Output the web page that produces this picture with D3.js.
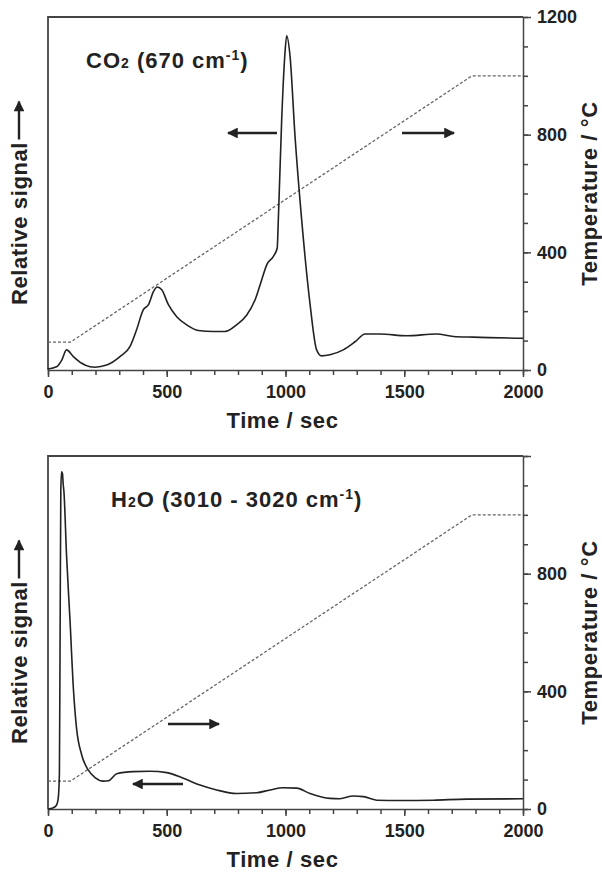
<!DOCTYPE html>
<html>
<head>
<meta charset="utf-8">
<script src="https://cdn.jsdelivr.net/npm/d3@7"></script>
<style>
  body { margin: 0; background: #fff; }
  svg { display: block; font-family: "Liberation Sans", Arial, sans-serif; font-weight: bold; }
  .frame { stroke: #444; stroke-width: 1.8; fill: none; }
  .axis path, .axis line { stroke: #444; stroke-width: 1.5; }
  .axis text { font-size: 18px; font-weight: bold; fill: #222; font-family: "Liberation Sans", Arial, sans-serif; }
  .signal { fill: none; stroke: #222; stroke-width: 1.6; }
  .temp { fill: none; stroke: #666; stroke-width: 1.3; stroke-dasharray: 3 2; }
  .title { font-size: 22px; fill: #222; letter-spacing: 0.6px; }
  .species { font-size: 22px; fill: #222; letter-spacing: 1px; }
</style>
</head>
<body>
<div id="chart"></div>
<script>
// time axis (s)
const timeMajor = [0, 500, 1000, 1500, 2000];
const timeMinor = d3.range(0, 2001, 100);
const tempMajor = [0, 400, 800, 1200];
const tempMinor = d3.range(0, 1201, 100);

// temperature programme (dashed line), same in both panels
const rampTimes = [0, 95, 1785, 2000];
const rampTemps = [95, 95, 1000, 1000];

// CO2 (670 cm-1) relative signal, 0..1 of the panel height
const co2Times = [0, 36, 58, 78, 107, 142, 177, 198, 247, 303, 345, 373, 401, 423, 444, 460, 479, 507, 542, 584,
  633, 696, 745, 794, 837, 872, 900, 921, 949, 965, 970, 984, 998, 1005, 1019, 1040, 1068, 1103, 1131, 1152,
  1187, 1243, 1293, 1335, 1398, 1510, 1636, 1707, 1791, 2000];
const co2Signal = [0.003, 0.009, 0.028, 0.057, 0.038, 0.019, 0.009, 0.008, 0.014, 0.038, 0.066, 0.114, 0.17, 0.185, 0.222, 0.235, 0.227, 0.185, 0.151, 0.128,
  0.112, 0.109, 0.109, 0.128, 0.156, 0.199, 0.256, 0.298, 0.322, 0.345, 0.43, 0.71, 0.9, 0.947, 0.89, 0.663, 0.426, 0.189, 0.057, 0.04,
  0.043, 0.057, 0.08, 0.102, 0.102, 0.097, 0.102, 0.095, 0.093, 0.09];

// H2O (3010 - 3020 cm-1) relative signal
const h2oTimes = [0, 20, 35, 43, 48, 51, 54, 57, 61, 64, 67, 78, 93, 107, 120, 142, 170, 198, 233, 255,
  289, 359, 429, 500, 570, 640, 710, 794, 879, 935, 991, 1047, 1103, 1187, 1229, 1285, 1328, 1384, 1482, 1623, 1763, 2000];
const h2oSignal = [0, 0.003, 0.01, 0.03, 0.1, 0.5, 0.9, 0.955, 0.95, 0.92, 0.9, 0.72, 0.53, 0.34, 0.23, 0.153, 0.11, 0.089, 0.079, 0.08,
  0.1, 0.106, 0.107, 0.103, 0.087, 0.068, 0.054, 0.044, 0.046, 0.054, 0.06, 0.059, 0.044, 0.03, 0.029, 0.037, 0.035, 0.025, 0.024, 0.025, 0.028, 0.029];

const W = 602, H = 874;
const svg = d3.select('#chart').append('svg').attr('width', W).attr('height', H);

// arrowhead marker
svg.append('defs').append('marker')
  .attr('id', 'head')
  .attr('viewBox', '0 0 10 10')
  .attr('refX', 9).attr('refY', 5)
  .attr('markerWidth', 6).attr('markerHeight', 4.5)
  .attr('markerUnits', 'strokeWidth')
  .attr('orient', 'auto')
  .append('path').attr('d', 'M0,0 L10,5 L0,10 Z').attr('fill', '#222');

function drawPanel(opt) {
  const x = d3.scaleLinear().domain([0, 2000]).range([48, 523]);
  const yT = d3.scaleLinear().domain([0, 1200]).range([opt.bottom, opt.top]);
  const yS = d3.scaleLinear().domain([0, 1]).range([opt.bottom, opt.top]);
  const g = svg.append('g');

  // frame: left, top
  g.append('path').attr('class', 'frame')
    .attr('d', `M${x(0)},${opt.bottom} V${opt.top} H${x(2000)}`);

  // x axis
  g.append('g').attr('class', 'axis')
    .attr('transform', `translate(0,${opt.bottom})`)
    .call(d3.axisBottom(x).tickValues(timeMinor).tickSize(5).tickFormat('').tickSizeOuter(0));
  g.append('g').attr('class', 'axis')
    .attr('transform', `translate(0,${opt.bottom})`)
    .call(d3.axisBottom(x).tickValues(timeMajor).tickSize(7).tickPadding(8)
      .tickFormat(d3.format('d')).tickSizeOuter(0))
    .call(a => a.select('.domain').remove());

  // right temperature axis
  g.append('g').attr('class', 'axis')
    .attr('transform', `translate(${x(2000)},0)`)
    .call(d3.axisRight(yT).tickValues(tempMinor).tickSize(5).tickFormat('').tickSizeOuter(0));
  g.append('g').attr('class', 'axis')
    .attr('transform', `translate(${x(2000)},0)`)
    .call(d3.axisRight(yT).tickValues(tempMajor).tickSize(8).tickPadding(6)
      .tickFormat(d => opt.labels.includes(d) ? d : '').tickSizeOuter(0))
    .call(a => a.select('.domain').remove());

  // temperature ramp
  const ramp = rampTimes.map((t, i) => [t, rampTemps[i]]);
  g.append('path').attr('class', 'temp')
    .attr('d', d3.line().x(d => x(d[0])).y(d => yT(d[1]))(ramp));

  // signal curve
  const sig = opt.times.map((t, i) => [t, opt.signal[i]]);
  g.append('path').attr('class', 'signal')
    .attr('d', d3.line().x(d => x(d[0])).y(d => yS(d[1])).curve(d3.curveMonotoneX)(sig));

  // species label
  const lab = g.append('text').attr('class', 'species')
    .attr('x', opt.labelX).attr('y', opt.top + 51);
  opt.label(lab);

  // arrows
  opt.arrows.forEach(a => {
    g.append('line')
      .attr('x1', a[0]).attr('y1', a[2]).attr('x2', a[1]).attr('y2', a[2])
      .attr('stroke', '#222').attr('stroke-width', 2.4)
      .attr('marker-end', 'url(#head)');
  });

  // axis titles
  g.append('text').attr('class', 'title')
    .attr('text-anchor', 'middle')
    .attr('x', (x(0) + x(2000)) / 2 - 3).attr('y', opt.bottom + 58)
    .text('Time / sec');

  const midY = (opt.top + opt.bottom) / 2;
  const left = g.append('g').attr('transform', `translate(27,${midY + 6}) rotate(-90)`);
  left.append('text').attr('class', 'title').attr('text-anchor', 'middle').attr('x', -24).attr('y', 0)
    .text('Relative signal');
  left.append('line')
    .attr('x1', 60).attr('y1', -8).attr('x2', 98).attr('y2', -8)
    .attr('stroke', '#222').attr('stroke-width', 2.4)
    .attr('marker-end', 'url(#head)');

  g.append('text').attr('class', 'title')
    .attr('text-anchor', 'middle')
    .attr('transform', `translate(597,${midY}) rotate(-90)`)
    .text('Temperature / °C');
}

drawPanel({
  top: 17, bottom: 370,
  times: co2Times, signal: co2Signal,
  labels: [0, 400, 800, 1200],
  labelX: 86,
  label: t => {
    t.append('tspan').text('CO');
    t.append('tspan').attr('font-size', 14).text('2');
    t.append('tspan').text(' (670 cm');
    t.append('tspan').attr('font-size', 14).attr('dy', -8).text('-1');
    t.append('tspan').attr('dy', 8).text(')');
  },
  arrows: [[277, 228, 133], [402, 454, 133]]
});

drawPanel({
  top: 456, bottom: 809,
  times: h2oTimes, signal: h2oSignal,
  labels: [0, 400, 800],
  labelX: 111,
  label: t => {
    t.append('tspan').text('H');
    t.append('tspan').attr('font-size', 14).text('2');
    t.append('tspan').text('O (3010 - 3020 cm');
    t.append('tspan').attr('font-size', 14).attr('dy', -8).text('-1');
    t.append('tspan').attr('dy', 8).text(')');
  },
  arrows: [[168, 219, 724], [183, 133, 784]]
});
</script>
</body>
</html>
